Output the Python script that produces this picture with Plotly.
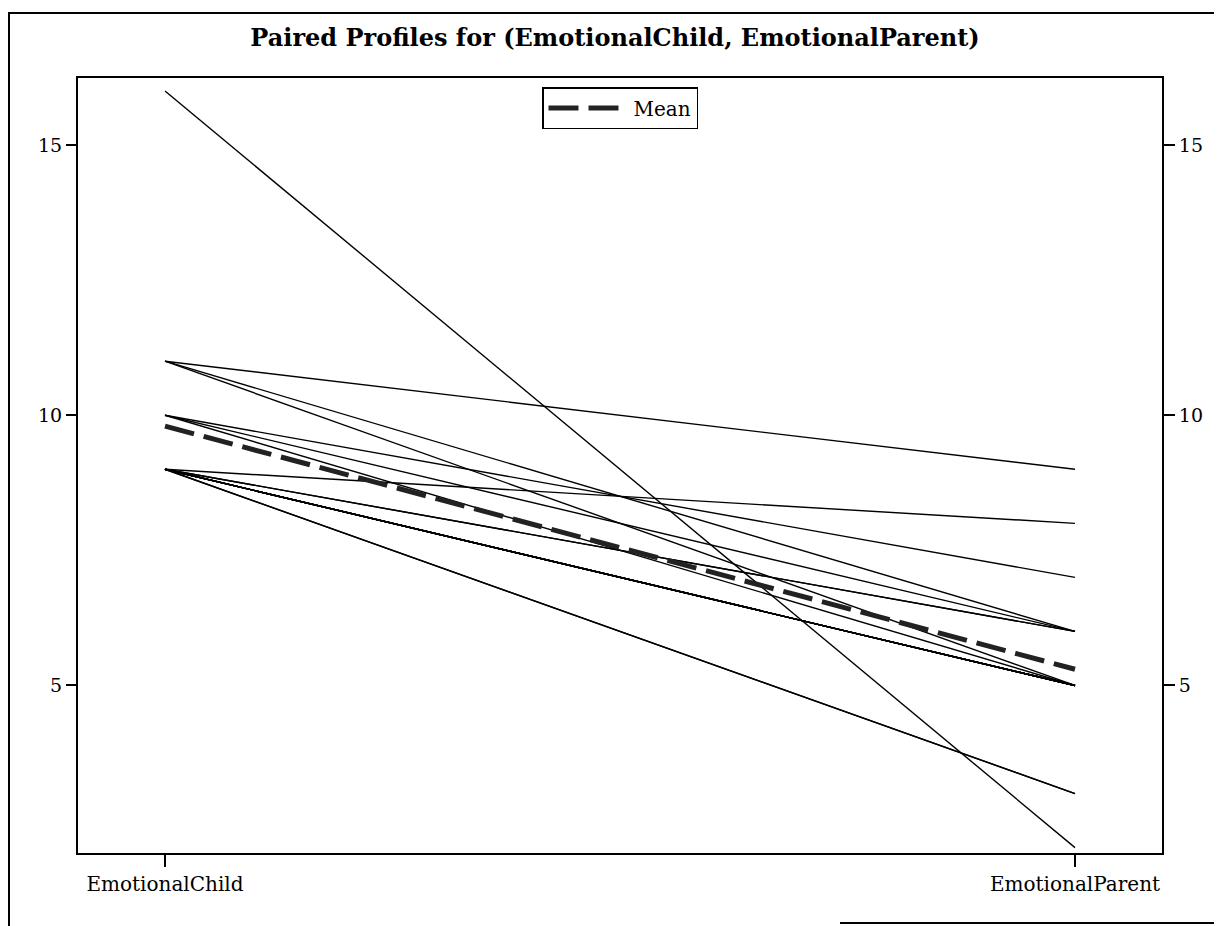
import plotly.graph_objects as go

# paired scores per subject
categories = ['EmotionalChild', 'EmotionalParent']
emotional_child = [16, 11, 11, 11, 10, 10, 10, 9, 9, 9, 9, 9, 9, 9, 9, 9, 9, 9, 9, 9]
emotional_parent = [2, 9, 6, 5, 7, 6, 5, 8, 6, 6, 5, 5, 5, 5, 5, 5, 5, 5, 3, 3]

FONT = 'DejaVu Serif'

# one path per subject, separated by gaps
xs, ys = [], []
for c, p in zip(emotional_child, emotional_parent):
    xs += [0, 1, None]
    ys += [c, p, None]

mean_child = sum(emotional_child) / len(emotional_child)
mean_parent = sum(emotional_parent) / len(emotional_parent)

fig = go.Figure()
fig.add_trace(go.Scatter(
    x=xs, y=ys, mode='lines', line=dict(color='black', width=1.4),
    showlegend=False, hoverinfo='skip', connectgaps=False,
))
fig.add_trace(go.Scatter(
    x=[0, 1], y=[mean_child, mean_parent], mode='lines', name='Mean',
    line=dict(color='#222222', width=5, dash='30px,10px'), yaxis='y2',
))

# the page body adds an 8px offset, so work in figure pixels = screen - 8
OFF = 8
FW, FH = 1222 - OFF, 926 - OFF
L, R, T, B = 78 - OFF, 1162 - OFF, 78 - OFF, 853 - OFF
W, H = R - L, B - T
def px(x):
    return (x - OFF - L) / W
def py(y):
    return (B - (y - OFF)) / H

yrange = [1.9, 16.24]
fig.update_layout(
    width=FW, height=FH,
    margin=dict(l=L, r=FW - R, t=T, b=FH - B),
    paper_bgcolor='white', plot_bgcolor='white',
    font=dict(family=FONT, color='black', size=18),
    title=dict(text='<b>Paired Profiles for (EmotionalChild, EmotionalParent)</b>',
               x=0.5, xanchor='center', y=1 - (38 - OFF) / FH, yanchor='middle',
               yref='container', font=dict(size=24, family=FONT)),
    xaxis=dict(range=[-87 / 910, 1 + 87 / 910], tickvals=[0, 1], ticktext=categories,
               showgrid=False, zeroline=False, showline=True, mirror=True,
               linecolor='black', linewidth=2, ticks='outside', ticklen=12,
               tickwidth=1.5, tickcolor='black', tickfont=dict(size=20)),
    yaxis=dict(range=yrange, tickvals=[5, 10, 15], showgrid=False, zeroline=False,
               showline=True, mirror=True, linecolor='black', linewidth=2,
               ticks='outside', ticklen=10, tickwidth=1.5, tickcolor='black',
               tickfont=dict(size=19)),
    yaxis2=dict(range=yrange, tickvals=[5, 10, 15], overlaying='y', side='right',
                showgrid=False, zeroline=False, showline=False,
                ticks='outside', ticklen=12, tickwidth=1.5, tickcolor='black',
                tickfont=dict(size=19)),
    legend=dict(x=0.5, xanchor='center', y=py(87), yanchor='top',
                bordercolor='black', borderwidth=1.5, bgcolor='white',
                itemwidth=80, font=dict(size=20, family=FONT)),
    shapes=[
        # scanned page frame
        dict(type='line', xref='paper', yref='paper', x0=px(8), x1=px(1222),
             y0=py(13), y1=py(13), line=dict(color='black', width=2)),
        dict(type='line', xref='paper', yref='paper', x0=px(9), x1=px(9),
             y0=py(13), y1=py(926), line=dict(color='black', width=2)),
        dict(type='line', xref='paper', yref='paper', x0=px(840), x1=px(1222),
             y0=py(923), y1=py(923), line=dict(color='black', width=2)),
    ],
)

fig.write_html('out.html')
